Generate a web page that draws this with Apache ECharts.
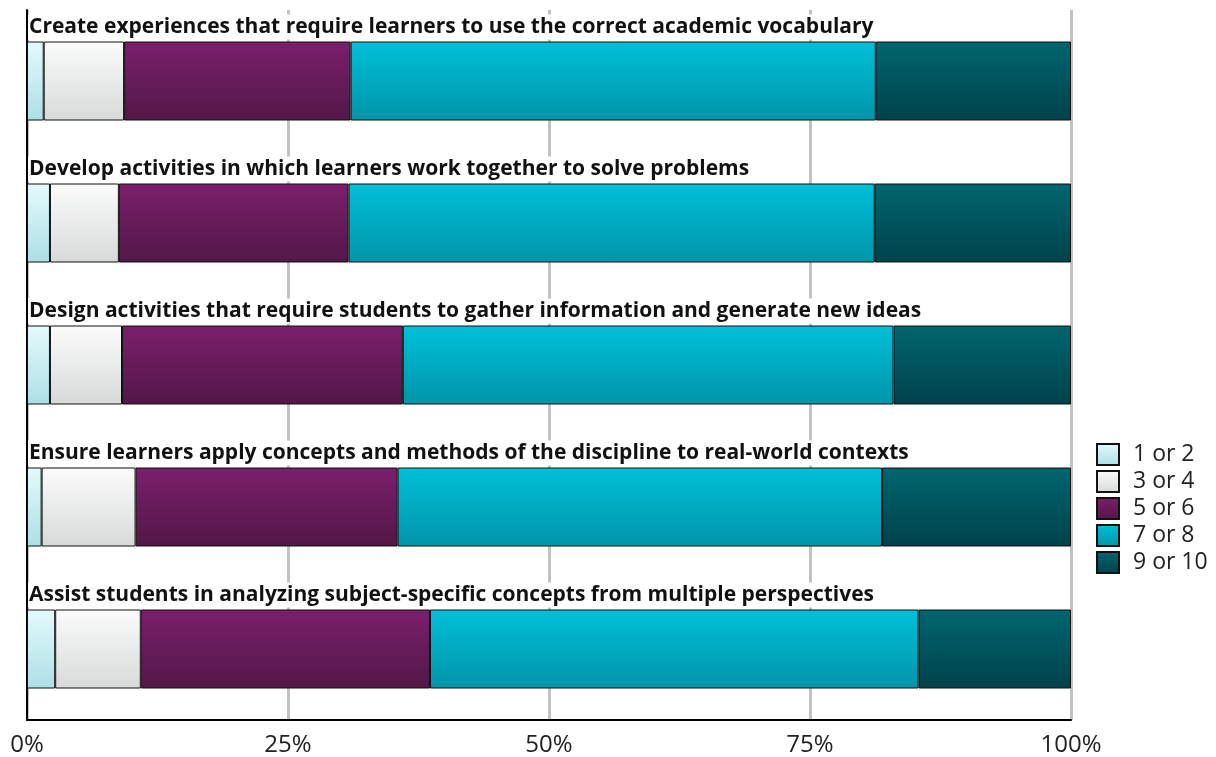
<!DOCTYPE html>
<html>
<head>
<meta charset="utf-8">
<script src="https://cdn.jsdelivr.net/npm/echarts@6/dist/echarts.min.js"></script>
<style>
  html, body { margin: 0; padding: 0; background: #ffffff; }
  #chart { width: 1216px; height: 757px; }
</style>
</head>
<body>
<div id="chart"></div>
<script>
// Survey items (top to bottom)
const categories = [
  'Create experiences that require learners to use the correct academic vocabulary',
  'Develop activities in which learners work together to solve problems',
  'Design activities that require students to gather information and generate new ideas',
  'Ensure learners apply concepts and methods of the discipline to real-world contexts',
  'Assist students in analyzing subject-specific concepts from multiple perspectives'
];

// Share of responses (%) per rating band
const seriesNames = ['1 or 2', '3 or 4', '5 or 6', '7 or 8', '9 or 10'];
const rating1to2  = [1.6, 2.2, 2.2, 1.4, 2.7];
const rating3to4  = [7.7, 6.6, 6.9, 9.0, 8.2];
const rating5to6  = [21.7, 22.0, 26.9, 25.1, 27.7];
const rating7to8  = [50.3, 50.4, 47.0, 46.4, 46.8];
const rating9to10 = [18.7, 18.8, 17.0, 18.1, 14.6];

const tickLabels = ['0%', '25%', '50%', '75%', '100%'];

const FONT = '"Open Sans", Lato, "DejaVu Sans", sans-serif';

function grad(top, bottom) {
  return {
    type: 'linear', x: 0, y: 0, x2: 0, y2: 1,
    colorStops: [{ offset: 0, color: top }, { offset: 1, color: bottom }]
  };
}

const fills = [
  grad('#e4fafc', '#addfe5'),
  grad('#fbfbfb', '#d8dada'),
  grad('#7b1f6c', '#521747'),
  grad('#00c0d8', '#0095a9'),
  grad('#00666f', '#00424b')
];

const dataSets = [rating1to2, rating3to4, rating5to6, rating7to8, rating9to10];

const series = dataSets.map((vals, i) => {
  const s = {
    name: seriesNames[i],
    type: 'bar',
    stack: 'total',
    barWidth: 79,
    data: vals,
    itemStyle: { color: fills[i], borderColor: '#111', borderWidth: 1 },
    emphasis: { disabled: true },
    silent: true,
    z: 3
  };
  if (i === 0) {
    // Item title written above each bar, aligned to the bar's left edge
    s.label = {
      show: true,
      position: [1, -2],
      align: 'left',
      verticalAlign: 'bottom',
      formatter: (p) => p.name,
      fontFamily: FONT,
      fontWeight: 'bold',
      fontSize: 21,
      lineHeight: 25,
      color: '#111',
      backgroundColor: '#ffffff',
      padding: [0, 1, 0, 1]
    };
  }
  return s;
});

const chart = echarts.init(document.getElementById('chart'), null, { renderer: 'canvas' });
chart.setOption({
  backgroundColor: '#ffffff',
  animation: false,
  grid: { left: 27, right: 145, top: 10, bottom: 37, containLabel: false },
  legend: {
    orient: 'vertical',
    left: 1096,
    top: 443,
    padding: 0,
    icon: 'rect',
    itemWidth: 22,
    itemHeight: 21,
    itemGap: 4,
    textStyle: { fontFamily: FONT, fontSize: 23, color: '#222', padding: [0, 0, 0, 9] },
    data: seriesNames,
    selectedMode: false
  },
  xAxis: {
    type: 'value',
    min: 0,
    max: 100,
    interval: 25,
    axisLine: { show: true, lineStyle: { color: '#000', width: 2 } },
    axisTick: { show: false },
    axisLabel: {
      margin: 13,
      fontFamily: FONT,
      fontSize: 24,
      color: '#222',
      formatter: (v) => tickLabels[Math.round(v / 25)]
    },
    splitLine: { show: true, lineStyle: { color: '#c2c2c2', width: 3 } }
  },
  yAxis: {
    type: 'category',
    data: categories,
    inverse: true,
    axisLine: { show: true, lineStyle: { color: '#000', width: 2 } },
    axisTick: { show: false },
    axisLabel: { show: false },
    splitLine: { show: false }
  },
  series: series
});
</script>
</body>
</html>
